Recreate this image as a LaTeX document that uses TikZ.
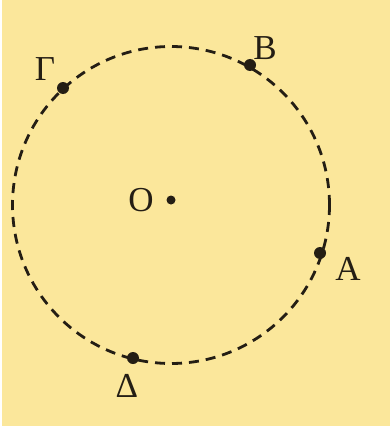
\documentclass[tikz,border=0pt]{standalone}
\usepackage{fontspec}
\setmainfont{Liberation Serif}
\begin{document}
\begin{tikzpicture}[x=1pt,y=-1pt,
  pt/.style={circle,fill=inkc,inner sep=0pt,minimum size=12pt},
  lbl/.style={text=inkc,font=\fontsize{35}{38}\selectfont,inner sep=0pt}]
\definecolor{bgyellow}{RGB}{251,231,155}
\definecolor{inkc}{RGB}{36,30,20}
\useasboundingbox (0,0) rectangle (390,428);
\fill[white] (0,0) rectangle (390,428);
\fill[bgyellow] (2,0) rectangle (390,426);
\draw[inkc,line width=2.8pt,dash pattern=on 10pt off 7pt] (171,205) circle[radius=158.5];
\node[pt] (G) at (63,88) {};
\node[pt] (B) at (250,65) {};
\node[pt] (A) at (320,253) {};
\node[pt] (D) at (133,358) {};
\node[pt,minimum size=9pt] (O) at (171,200) {};
\node[lbl] (lG) at (45,69) {Γ};
\node[lbl] (lB) at (265,48) {B};
\node[lbl] (lA) at (348,269) {A};
\node[lbl] (lD) at (127,386) {Δ};
\node[lbl] (lO) at (141,200) {O};
\end{tikzpicture}
\end{document}
